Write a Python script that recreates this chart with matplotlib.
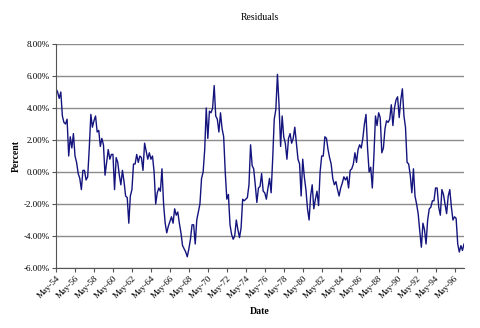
import matplotlib
matplotlib.use("Agg")
import matplotlib.pyplot as plt
import matplotlib.dates as mdates
from matplotlib.ticker import FuncFormatter, MultipleLocator
import pandas as pd

# residuals in percent, one reading every two months starting May 1954
resid_54_63 = [
    5.2, 5.0, 4.6, 5.0, 3.5, 3.1, 3.0, 3.3, 1.0, 2.2, 1.5, 2.4,
    1.0, 0.6, -0.1, -0.4, -1.1, 0.1, 0.1, -0.5, -0.3, 1.5, 3.6, 2.8,
    3.2, 3.5, 2.5, 2.6, 1.6, 2.1, 1.7, -0.2, 0.6, 1.4, 0.8, 1.1,
    1.1, -1.1, 0.9, 0.6, -0.2, -0.8, 0.1, -0.6, -1.5, -1.6, -3.2, -1.5,
    -1.1, 0.5, 0.5, 1.1, 0.6, 1.0, 0.9, 0.1, 1.8, 1.3, 0.8, 1.2,
]
resid_64_73 = [
    0.8, 1.0, 0.0, -2.0, -1.3, -1.0, -1.2, 0.2, -2.0, -3.2, -3.8, -3.4,
    -3.1, -2.8, -3.2, -2.3, -2.7, -2.5, -3.2, -3.8, -4.6, -4.8, -5.0, -5.3,
    -4.8, -4.2, -3.3, -3.3, -4.5, -3.0, -2.5, -2.0, -0.4, 0.0, 1.4, 4.0,
    2.1, 3.8, 3.7, 4.0, 5.4, 3.5, 3.3, 2.5, 3.7, 2.7, 2.2, 0.0,
    -1.7, -1.4, -3.3, -3.9, -4.2, -4.0, -3.0, -3.6, -4.1, -3.5, -1.7, -1.8,
]
resid_74_83 = [
    -1.7, -1.6, -0.8, 1.7, 0.4, 0.2, -0.8, -1.9, -1.0, -0.9, -0.1, -1.2,
    -1.3, -1.7, -1.0, -0.4, -1.3, 0.8, 3.3, 3.9, 6.1, 4.2, 1.6, 3.5,
    2.2, 1.8, 0.8, 2.1, 2.4, 1.8, 2.1, 2.8, 1.8, 0.8, 0.5, -1.5,
    0.8, -0.3, -1.1, -2.3, -3.0, -1.5, -0.8, -2.3, -1.7, -1.2, -2.1, 0.0,
    1.0, 1.0, 2.2, 2.1, 1.4, 0.9, 0.5, -0.4, -0.8, -0.6, -1.1, -1.5,
]
resid_84_97 = [
    -1.0, -0.7, -0.3, -0.5, -0.3, -1.0, 0.1, 0.2, 0.5, 1.2, 0.6, 1.4,
    1.7, 1.5, 2.1, 3.0, 3.6, 1.5, 0.0, 0.3, -1.0, 1.0, 3.5, 2.9,
    3.7, 3.4, 1.2, 1.5, 2.7, 3.2, 3.1, 3.3, 4.2, 2.9, 4.0, 4.5,
    4.7, 3.4, 4.5, 5.2, 3.5, 2.8, 0.6, 0.5, -0.2, -1.3, 0.2, -1.5,
    -2.0, -2.6, -3.7, -4.7, -3.2, -3.6, -4.5, -3.0, -2.3, -2.2, -1.8, -1.8,
    -1.0, -1.0, -2.2, -2.7, -1.1, -1.4, -2.0, -2.6, -1.5, -1.1, -2.2, -3.0,
    -2.8, -2.9, -4.5, -5.0, -4.6, -4.9, -4.5,
]
residuals = resid_54_63 + resid_64_73 + resid_74_83 + resid_84_97
dates = pd.date_range("1954-05-01", periods=len(residuals), freq="2MS")
tick_dates = pd.date_range("1954-05-01", "1996-05-01", freq="24MS")

plt.rcParams["font.family"] = ["Liberation Serif", "DejaVu Serif"]

fig = plt.figure(figsize=(4.8, 3.28), dpi=100)
ax = fig.add_axes([0.1167, 0.1829, 0.85, 0.683])

ax.plot(dates, residuals, color="#14147e", lw=1.0)

ax.set_xlim(dates[0], dates[-1])
ax.set_ylim(-6, 8)
ax.yaxis.set_major_locator(MultipleLocator(2))
ax.yaxis.set_major_formatter(FuncFormatter(lambda v, p: f"{v:.2f}%"))
ax.grid(axis="y", color="#8c8c8c", lw=1.0)
ax.set_axisbelow(True)

ax.set_xticks(tick_dates)
ax.xaxis.set_major_formatter(mdates.DateFormatter("%b-%y"))
for lbl in ax.get_xticklabels():
    lbl.set_rotation(45)
    lbl.set_ha("right")
    lbl.set_rotation_mode("anchor")

for side in ("top", "right"):
    ax.spines[side].set_visible(False)
for side in ("left", "bottom"):
    ax.spines[side].set_color("#555555")
    ax.spines[side].set_linewidth(0.8)
ax.tick_params(labelsize=6.5, length=3, width=0.8, color="#555555", pad=1.5)

ax.set_title("Residuals", fontsize=7, pad=17)
ax.set_ylabel("Percent", fontsize=7, fontweight="bold", labelpad=2)
ax.set_xlabel("Date", fontsize=7, fontweight="bold", labelpad=5)

fig.savefig("out.png", dpi=100)
